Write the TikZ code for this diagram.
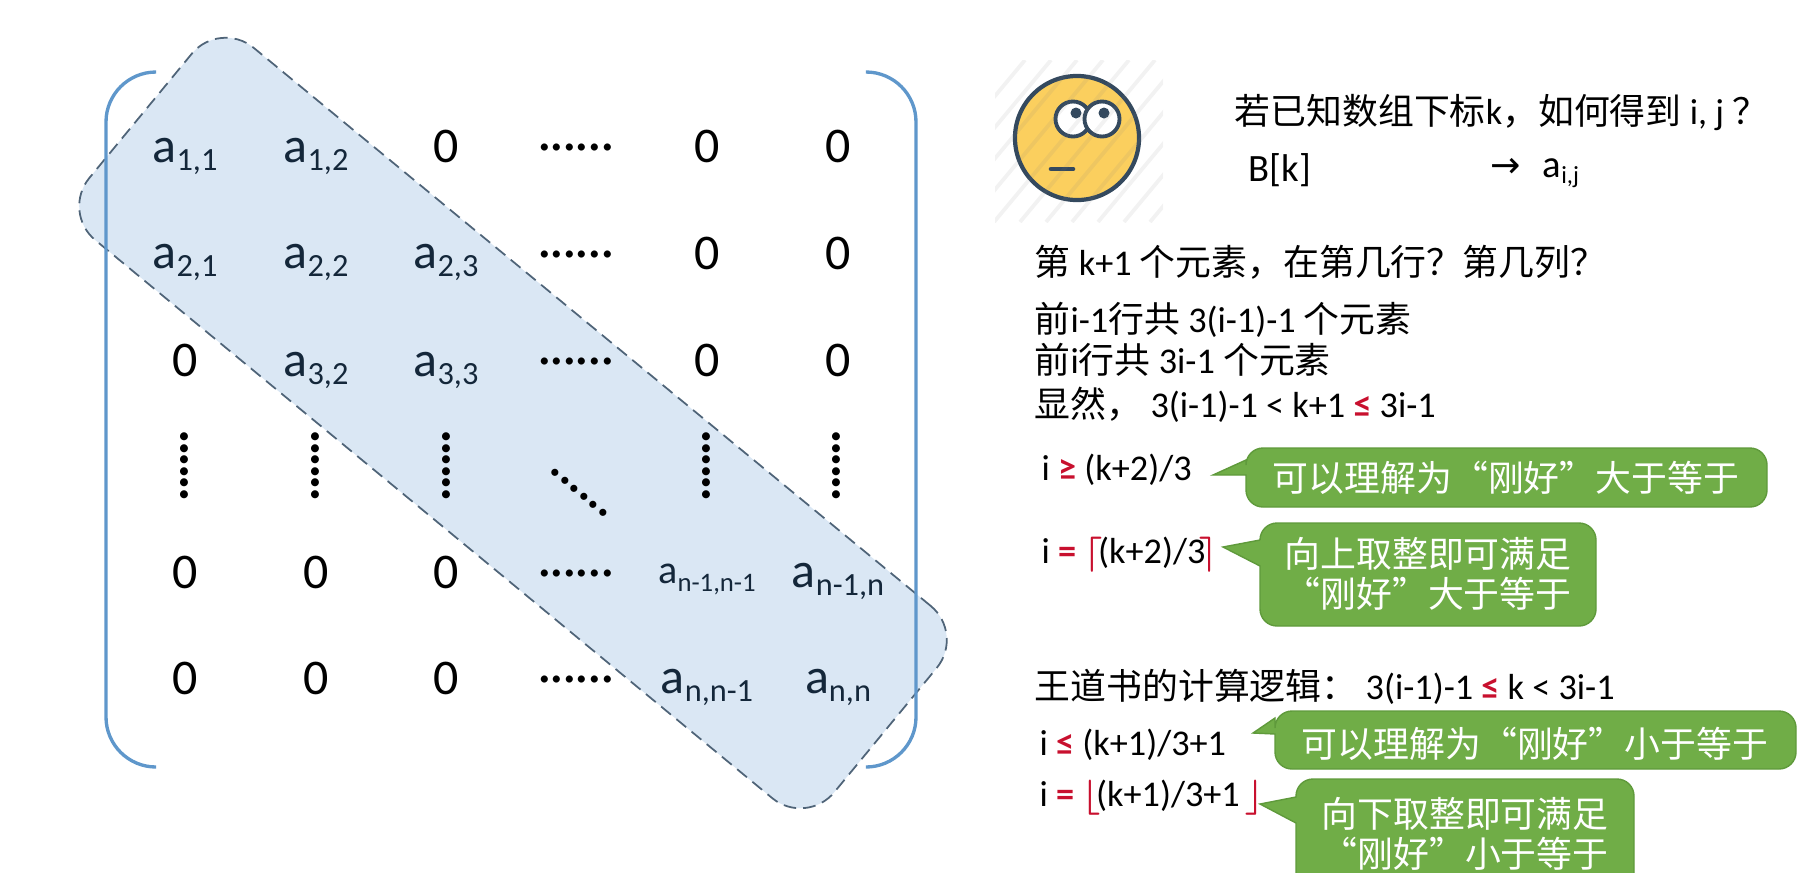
\documentclass[tikz,border=0pt]{standalone}
\usepackage{fontspec}
\usepackage{tikz}
\usetikzlibrary{positioning, calc}
\setmainfont{Carlito}
\newfontfamily\cjk{Noto Sans CJK SC}
\definecolor{bandFill}{HTML}{DAE7F4}
\definecolor{bandLine}{HTML}{4F6478}
\definecolor{bracketBlue}{HTML}{5F97CB}
\definecolor{entryDark}{HTML}{14273A}
\definecolor{noteGreen}{HTML}{70AD47}
\definecolor{noteLine}{HTML}{5F9A3B}
\definecolor{faceFill}{HTML}{FBCF5E}
\definecolor{faceLine}{HTML}{34495E}
\definecolor{markRed}{HTML}{C8102E}
\newcommand{\zh}[1]{{\cjk\fontsize{10.2}{12}\selectfont #1}}
\newcommand{\rd}[1]{\textcolor{markRed}{\textbf{#1}}}
\newcommand{\rdm}[1]{\textcolor{markRed}{\boldmath$#1$}}
\newcommand{\sizeA}{\fontsize{14.2}{17}\selectfont}
\newcommand{\sizeB}{\fontsize{9.2}{11}\selectfont}
\newcommand{\sizeC}{\fontsize{11.4}{14}\selectfont}
\newcommand{\sizeD}{\fontsize{7.6}{9}\selectfont}
\newcommand{\entry}[1]{a\raisebox{-2.4pt}{\sizeB #1}}
\newcommand{\entrysmall}[1]{{\sizeC a\raisebox{-2.4pt}{\sizeD #1}}}
\tikzset{
  cell/.style={inner sep=0pt, anchor=base, font=\sizeA},
  dotrun/.style={inner sep=0pt, font=\sizeA},
  linetext/.style={anchor=west, inner sep=0pt, font=\fontsize{10.3}{12}\selectfont},
  notetext/.style={inner sep=0pt, align=center, text=white, font=\cjk\fontsize{10.2}{11.4}\selectfont},
  notebox/.style={draw=noteLine, fill=noteGreen, line width=0.4pt},
  bracket/.style={draw=bracketBlue, line width=0.95pt},
  eye/.style={circle, draw=faceLine, fill=white, line width=1.1pt, minimum size=0.35cm, inner sep=0pt},
  pupil/.style={circle, fill=faceLine, minimum size=0.11cm, inner sep=0pt}
}
\begin{document}
\begin{tikzpicture}[x=0.01cm, y=-0.01cm]
  \useasboundingbox (0,0) rectangle (1818,872);
  \clip (0,0) rectangle (1818,872);
  % Band over the diagonal
  \node[rotate=-39.5, draw=bandLine, fill=bandFill, dash pattern=on 3.6pt off 2pt, rounded corners=0.44cm, line width=0.5pt,
    minimum width=9.65cm, minimum height=2.49cm] (band) at (513,423) {};
  % Brackets
  \coordinate (lt) at (156,72); \coordinate (lb) at (156,767);
  \coordinate (rt) at (866,72); \coordinate (rb) at (866,767);
  \draw[bracket, rounded corners=0.5cm] (lt) -- (106,72) -- (106,767) -- (lb);
  \draw[bracket, rounded corners=0.5cm] (rt) -- (916,72) -- (916,767) -- (rb);
  % Entries
  \foreach \x/\y/\txt in {%
    185/162/{1,1}, 316/162/{1,2},
    185/268/{2,1}, 316/268/{2,2}, 446/268/{2,3},
    316/376/{3,2}, 446/376/{3,3},
    838/587/{n-1,n}, 707/693/{n,n-1}, 838/693/{n,n}%
  } {
    \node[cell, text=entryDark] (e\x-\y) at (\x,\y) {\entry{\txt}};
  }
  \node[cell, text=entryDark] (enn) at (707,583) {\entrysmall{n-1,n-1}};
  \foreach \x/\y in {%
    446/162, 707/162, 838/162,
    707/269, 838/269,
    185/376, 707/376, 838/376,
    185/588, 316/588, 446/588,
    185/694, 316/694, 446/694%
  } {
    \node[cell] (z\x-\y) at (\x,\y) {0};
  }
  % Dots
  \foreach \y in {161,268,375,587,693} {
    \node[cell] (h\y) at (576,\y) {······};
  }
  \foreach \x in {188,319,450,710,840} {
    \node[dotrun, rotate=90, font=\fontsize{12.2}{14}\selectfont\bfseries] (v\x) at (\x,466) {······};
  }
  \node[dotrun, rotate=-40] (diag) at (576,497) {······};
  % Face
  \node[circle, draw=faceLine, fill=faceFill, line width=1.2pt, minimum size=1.24cm, inner sep=0pt] (face) at (1077,138) {};
  \node[eye] (eyeL) at (1073,119) {};
  \node[eye] (eyeR) at (1102,119) {};
  \node[pupil] (pupL) at (1076,113) {};
  \node[pupil] (pupR) at (1104,113) {};
  \coordinate (mouthL) at (1051,169); \coordinate (mouthR) at (1073,169);
  \draw[faceLine, line width=1.3pt, line cap=round] (mouthL) -- (mouthR);
  \begin{scope}
    \clip (995,60) rectangle (1163,222);
    \foreach \s in {0,...,14} {
      \draw[gray, opacity=0.1, line width=1.1pt] ($(890,222)+(\s*26,0)$) -- ++(135,-162);
    }
  \end{scope}
  % Text at the right
  \node[linetext] (q1) at (1234,113) {\zh{若已知数组下标}k\zh{，如何得到} i, j \zh{？}};
  \node[linetext, font=\fontsize{11}{13}\selectfont] (q2) at (1248,170) {B[k]};
  \node[linetext] (q3) at (1490,168) {\fontspec{DejaVu Sans}→};
  \node[linetext, font=\fontsize{11}{13}\selectfont] (q4) at (1542,173) {a\raisebox{-1.6pt}{\fontsize{7}{8}\selectfont i,j}};
  \node[linetext] (l1) at (1034,262) {\zh{第} k+1 \zh{个元素，在第几行？第几列？}};
  \node[linetext] (l2) at (1034,320) {\zh{前}i-1\zh{行共} 3(i-1)-1 \zh{个元素}};
  \node[linetext] (l3) at (1034,360) {\zh{前}i\zh{行共} 3i-1 \zh{个元素}};
  \node[linetext] (l4) at (1034,405) {\zh{显然，} 3(i-1)-1 < k+1 \rd{≤} 3i-1};
  \node[linetext] (l5) at (1041,470) {i \rd{≥} (k+2)/3};
  \node[linetext] (l6) at (1041,555) {i \rd{=} \rdm{\lceil}\hspace{-1.2pt}(k+2)/3\hspace{-1.6pt}\rdm{\rceil}};
  \node[linetext] (l7) at (1034,687) {\zh{王道书的计算逻辑：} 3(i-1)-1 \rd{≤} k < 3i-1};
  \node[linetext] (l8) at (1039,745) {i \rd{≤} (k+1)/3+1};
  \node[linetext] (l9) at (1039,798) {i \rd{=} \rdm{\lfloor}\hspace{-1.2pt}(k+1)/3+1\hspace{-0.6pt} \rdm{\rfloor}};
  % Notes
  \foreach \nm/\xa/\ya/\xb/\yb/\tx/\ty/\ba/\bb/\cx/\cy/\txt in {%
    n1/1246/448/1767/507/1213/475/460/475/1506/478/{可以理解为“刚好”大于等于},
    n2/1260/523/1596/626/1223/547/540/566/1428/574/{向上取整即可满足\\“刚好”大于等于},
    n3/1275/711/1796/769/1253/733/718/734/1535/744/{可以理解为“刚好”小于等于},
    n4/1296/779/1634/892/1260/804/797/823/1465/834/{向下取整即可满足\\“刚好”小于等于}%
  } {
    \draw[notebox] (\xa,\ba) -- (\tx,\ty) -- (\xa,\bb) [rounded corners=0.17cm] -- (\xa,\yb) -- (\xb,\yb) -- (\xb,\ya) -- (\xa,\ya) [sharp corners] -- cycle;
    \node[notetext] (\nm) at (\cx,\cy) {\txt};
  }
\end{tikzpicture}
\end{document}
